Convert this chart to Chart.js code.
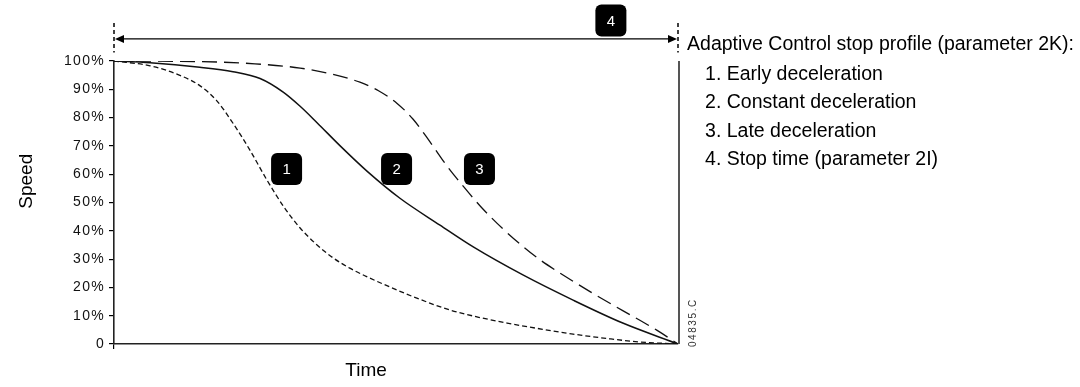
<!DOCTYPE html>
<html>
<head>
<meta charset="utf-8">
<script src="https://cdn.jsdelivr.net/npm/chart.js@4/dist/chart.umd.min.js"></script>
<style>
  body { margin: 0; background: #fff; }
  #wrap { width: 1080px; height: 387px; }
</style>
</head>
<body>
<div id="wrap"><canvas id="stopChart"></canvas></div>
<script>
// time as fraction of stop time, speed in %
const earlyTime = [0, 0.064, 0.122, 0.152, 0.182, 0.211, 0.241, 0.271, 0.301, 0.330, 0.360, 0.388, 0.418, 0.447, 0.477, 0.537, 0.596, 0.650, 0.697, 0.760, 0.814, 0.880, 0.933, 1];
const earlySpeed = [100, 98.3, 94.5, 91.3, 86, 78, 68.5, 58, 48.5, 41, 35, 30.5, 26.8, 23.9, 21.2, 16.2, 12, 9.3, 7.4, 5.2, 3.5, 1.8, 0.7, 0];

const constTime = [0, 0.064, 0.152, 0.211, 0.259, 0.300, 0.330, 0.360, 0.401, 0.449, 0.507, 0.578, 0.637, 0.725, 0.814, 0.902, 1];
const constSpeed = [100, 99.4, 97.8, 96.2, 93.8, 89, 84, 78.2, 70, 61, 51.5, 42, 34.3, 24.4, 15.5, 7.4, 0];

const lateTime = [0, 0.150, 0.250, 0.330, 0.388, 0.436, 0.469, 0.502, 0.530, 0.560, 0.590, 0.619, 0.650, 0.690, 0.725, 0.755, 0.785, 0.844, 0.902, 0.963, 1];
const lateSpeed = [100, 99.8, 99, 97.5, 95.3, 92.5, 89.5, 85, 79.5, 71.5, 63, 55.8, 48.6, 40.6, 34.5, 29.8, 25.8, 18.5, 11.8, 4.8, 0];

const yTicks = [0, 10, 20, 30, 40, 50, 60, 70, 80, 90, 100];

const legendTitle = 'Adaptive Control stop profile (parameter 2K):';
const legendItems = ['1. Early deceleration', '2. Constant deceleration', '3. Late deceleration', '4. Stop time (parameter 2I)'];

// numbered markers: [label, time, speed]
const markers = [['1', 0.306, 61.8], ['2', 0.501, 61.8], ['3', 0.648, 61.8], ['4', 0.881, 114.3]];

function toPoints(xs, ys) {
    return xs.map((x, i) => ({ x: x, y: ys[i] }));
}

function roundBox(ctx, cx, cy, w, h, r) {
    const x = cx - w / 2, y = cy - h / 2;
    ctx.beginPath();
    ctx.moveTo(x + r, y);
    ctx.arcTo(x + w, y, x + w, y + h, r);
    ctx.arcTo(x + w, y + h, x, y + h, r);
    ctx.arcTo(x, y + h, x, y, r);
    ctx.arcTo(x, y, x + w, y, r);
    ctx.closePath();
    ctx.fill();
}

const spacingPlugin = {
    id: 'spacing',
    beforeDraw(chart) { chart.ctx.letterSpacing = '1.3px'; },
    beforeDatasetsDraw(chart) { chart.ctx.letterSpacing = '0px'; }
};

const extrasPlugin = {
    id: 'extras',
    afterDraw(chart) {
        const ctx = chart.ctx;
        const xs = chart.scales.x, ys = chart.scales.y;
        const px = v => xs.getPixelForValue(v);
        const py = v => ys.getPixelForValue(v);
        ctx.save();

        // right boundary line
        ctx.strokeStyle = '#555';
        ctx.lineWidth = 2;
        ctx.beginPath();
        ctx.moveTo(px(1) + 1, py(100));
        ctx.lineTo(px(1) + 1, py(0));
        ctx.stroke();

        // dashed limits of stop time
        ctx.strokeStyle = '#000';
        ctx.lineWidth = 1.5;
        ctx.setLineDash([4, 3]);
        [0, 1].forEach(t => {
            ctx.beginPath();
            ctx.moveTo(px(t), py(113.4));
            ctx.lineTo(px(t), py(103));
            ctx.stroke();
        });
        ctx.setLineDash([]);

        // double arrow
        const ay = py(107.8);
        ctx.lineWidth = 1.3;
        ctx.beginPath();
        ctx.moveTo(px(0) + 4, ay);
        ctx.lineTo(px(1) - 4, ay);
        ctx.stroke();
        ctx.fillStyle = '#000';
        ctx.beginPath();
        ctx.moveTo(px(0) + 1, ay);
        ctx.lineTo(px(0) + 10, ay - 4);
        ctx.lineTo(px(0) + 10, ay + 4);
        ctx.closePath();
        ctx.fill();
        ctx.beginPath();
        ctx.moveTo(px(1) - 1, ay);
        ctx.lineTo(px(1) - 10, ay - 4);
        ctx.lineTo(px(1) - 10, ay + 4);
        ctx.closePath();
        ctx.fill();

        // numbered boxes
        markers.forEach(m => {
            const cx = px(m[1]), cy = py(m[2]);
            ctx.fillStyle = '#000';
            roundBox(ctx, cx, cy, 31, 32, 6);
            ctx.fillStyle = '#fff';
            ctx.font = '15px "Liberation Sans", Arial, sans-serif';
            ctx.textAlign = 'center';
            ctx.textBaseline = 'middle';
            ctx.fillText(m[0], cx, cy + 1);
        });

        // legend text
        ctx.fillStyle = '#000';
        ctx.font = '19.5px "Liberation Sans", Arial, sans-serif';
        ctx.textAlign = 'left';
        ctx.textBaseline = 'alphabetic';
        ctx.fillText(legendTitle, px(1.016), py(103.9));
        const itemY = [93.3, 83.3, 73.2, 63.2];
        legendItems.forEach((t, i) => ctx.fillText(t, px(1.048), py(itemY[i])));

        // axis titles
        ctx.font = '19px "Liberation Sans", Arial, sans-serif';
        ctx.textAlign = 'center';
        ctx.textBaseline = 'middle';
        ctx.fillText('Time', px(0.447), py(-9.3));
        ctx.save();
        ctx.translate(px(-0.155), py(57.5));
        ctx.rotate(-Math.PI / 2);
        ctx.fillText('Speed', 0, 0);
        ctx.restore();

        // drawing code
        ctx.save();
        ctx.translate(px(1.027), py(-1.1));
        ctx.rotate(-Math.PI / 2);
        ctx.font = '10px "Liberation Sans", Arial, sans-serif';
        ctx.letterSpacing = '1.6px';
        ctx.fillStyle = '#333';
        ctx.textAlign = 'left';
        ctx.textBaseline = 'middle';
        ctx.fillText('04835.C', 0, 0);
        ctx.restore();

        ctx.restore();
    }
};

const lineStyle = { pointRadius: 0, borderColor: '#111', fill: false, cubicInterpolationMode: 'monotone' };

new Chart(document.getElementById('stopChart'), {
    type: 'line',
    data: {
        datasets: [
            Object.assign({ label: 'Early deceleration', data: toPoints(earlyTime, earlySpeed), borderWidth: 1.3, borderDash: [5, 3] }, lineStyle),
            Object.assign({ label: 'Constant deceleration', data: toPoints(constTime, constSpeed), borderWidth: 1.5 }, lineStyle),
            Object.assign({ label: 'Late deceleration', data: toPoints(lateTime, lateSpeed), borderWidth: 1.3, borderDash: [15, 7] }, lineStyle)
        ]
    },
    options: {
        responsive: true,
        maintainAspectRatio: false,
        animation: false,
        layout: { padding: { left: 0, right: 402, top: 61, bottom: 0 } },
        plugins: { legend: { display: false }, tooltip: { enabled: false } },
        scales: {
            x: {
                type: 'linear',
                min: 0,
                max: 1,
                afterBuildTicks: scale => { scale.ticks = [{ value: 0 }]; },
                afterFit: scale => { scale.height = 43; },
                ticks: { display: false },
                grid: { drawOnChartArea: false, tickLength: 5, color: '#000', lineWidth: 1.2 },
                border: { color: '#222', width: 1.6 }
            },
            y: {
                min: 0,
                max: 100,
                afterBuildTicks: scale => { scale.ticks = yTicks.map(v => ({ value: v })); },
                afterFit: scale => { scale.width = 114; },
                ticks: {
                    callback: v => v === 0 ? '0' : v + '%',
                    color: '#111',
                    padding: 4,
                    font: { family: '"Liberation Sans", Arial, sans-serif', size: 14 }
                },
                grid: { drawOnChartArea: false, tickLength: 5, color: '#000', lineWidth: 1.2 },
                border: { color: '#222', width: 1.6 }
            }
        }
    },
    plugins: [spacingPlugin, extrasPlugin]
});
</script>
</body>
</html>
